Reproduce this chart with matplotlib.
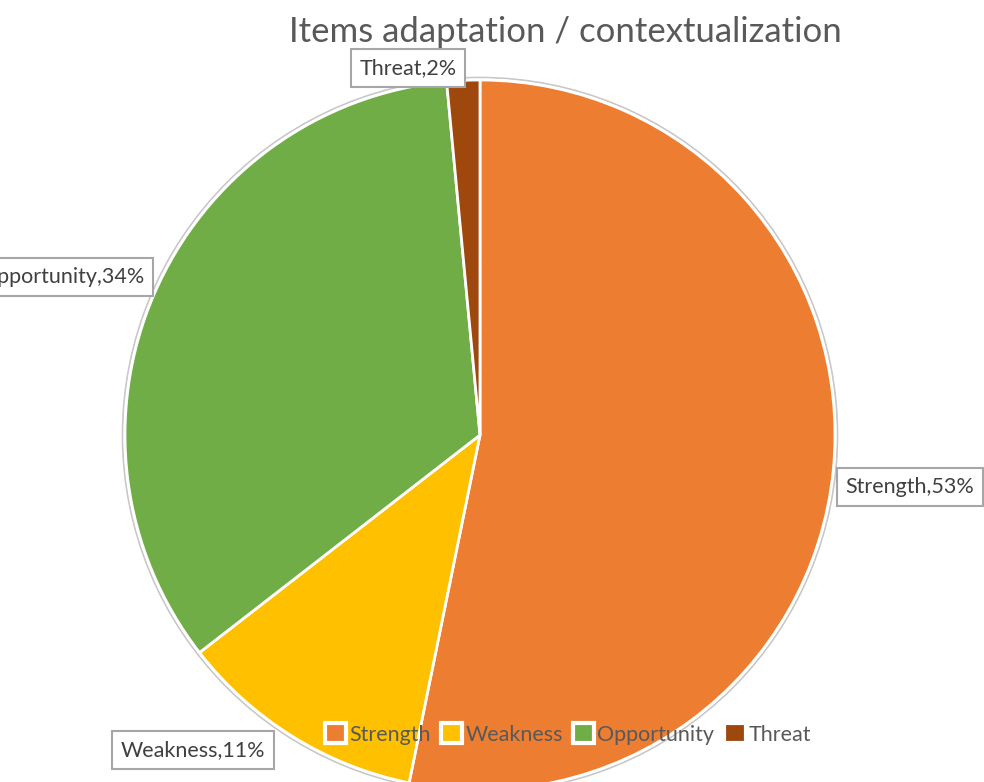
import matplotlib
matplotlib.use('Agg')
import matplotlib.pyplot as plt
from matplotlib.patches import Patch, Circle

# 数据
categories = ['Strength', 'Weakness', 'Opportunity', 'Threat']
shares = [53.2, 11.3, 34.0, 1.5]
colors = ['#ED7D31', '#FFC000', '#70AD47', '#9E480E']
title = 'Items adaptation / contextualization'

# 布局 (像素坐标, y 向上)
W, H = 984, 782
center = (480, 347)
radius = 355
label_pos = [(910, 295), (193, 32), (62, 505), (408, 714)]

plt.rcParams['font.family'] = ['Lato', 'DejaVu Sans']

fig = plt.figure(figsize=(W / 100, H / 100), dpi=100)
ax = fig.add_axes([0, 0, 1, 1])

ax.add_patch(Circle(center, radius + 2.5, fill=False, edgecolor='#c8c8c8', lw=1.2, zorder=0))
ax.pie(shares, colors=colors, startangle=90, counterclock=False,
       center=center, radius=radius,
       wedgeprops=dict(edgecolor='white', linewidth=2))

for cat, val, (x, y) in zip(categories, shares, label_pos):
    ax.text(x, y, f'{cat},{round(val)}%', ha='center', va='center',
            fontsize=15.5, color='#404040',
            bbox=dict(boxstyle='square,pad=0.4', fc='white', ec='#a6a6a6', lw=1.5))

ax.set_xlim(0, W)
ax.set_ylim(0, H)
ax.set_aspect('equal')
ax.axis('off')

fig.text(565 / W, 1 - 32 / H, title, ha='center', va='center', fontsize=25, color='#595959')

handles = [Patch(facecolor=c, edgecolor='white', linewidth=3) for c in colors]
fig.legend(handles, categories, loc='center', bbox_to_anchor=(568 / W, 1 - 734 / H),
           ncol=4, frameon=False, fontsize=15.5, labelcolor='#595959',
           handlelength=1.0, handleheight=1.0, handletextpad=0.15, columnspacing=0.45)

fig.savefig('out.png', dpi=100)
